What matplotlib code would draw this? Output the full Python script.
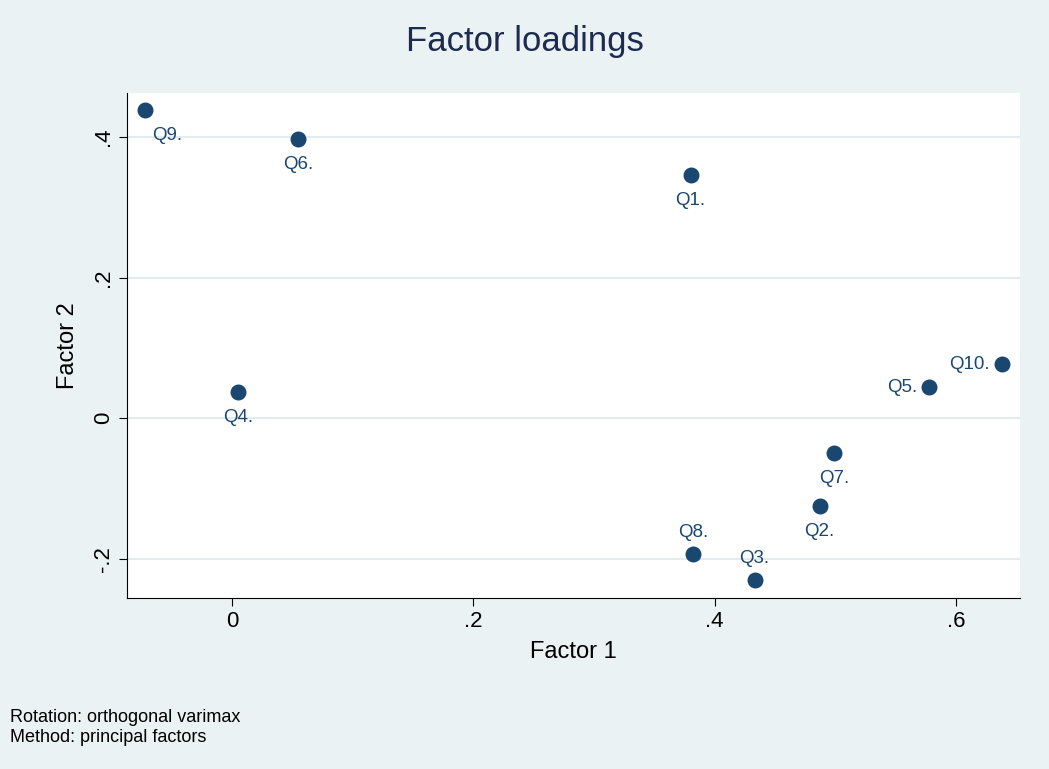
import matplotlib.pyplot as plt

plt.rcParams['font.family'] = ['Liberation Sans', 'DejaVu Sans']

# loadings
labels = ["Q1.", "Q2.", "Q3.", "Q4.", "Q5.", "Q6.", "Q7.", "Q8.", "Q9.", "Q10."]
factor1 = [0.380, 0.487, 0.433, 0.005, 0.578, 0.055, 0.499, 0.382, -0.072, 0.638]
factor2 = [0.346, -0.125, -0.231, 0.037, 0.044, 0.397, -0.050, -0.194, 0.439, 0.077]
# label placement: b=below, br=below right, l=left, a=above
placement = ["b", "b", "a", "b", "l", "b", "b", "a", "br", "l"]

xticks = [0, 0.2, 0.4, 0.6]
xticklabels = ["0", ".2", ".4", ".6"]
yticks = [-0.2, 0, 0.2, 0.4]
yticklabels = ["-.2", "0", ".2", ".4"]

bg = "#eaf2f3"
navy = "#1a476f"
txt = "#1e2b4f"

fig = plt.figure(figsize=(10.49, 7.69), dpi=100, facecolor=bg)
ax = fig.add_axes([127/1049, 1-598/769, (1020-127)/1049, (598-93)/769])
ax.set_facecolor("white")

ax.scatter(factor1, factor2, s=110, color=navy, zorder=3)

offsets = {"b": (0, -12, "center", "top"),
           "br": (5, -12, "left", "top"),
           "l": (-9, 0, "right", "center"),
           "a": (0, 10, "center", "bottom")}
for x, y, lab, p in zip(factor1, factor2, labels, placement):
    dx, dy, ha, va = offsets[p]
    ax.annotate(lab, (x, y), xytext=(dx, dy), textcoords="offset points",
                ha=ha, va=va, fontsize=13.5, color=navy)

ax.set_xlim(-0.087, 0.653)
ax.set_ylim(-0.256, 0.463)
ax.set_xticks(xticks)
ax.set_xticklabels(xticklabels)
ax.set_yticks(yticks)
ax.set_yticklabels(yticklabels, rotation=90, va="center")
ax.tick_params(labelsize=16, colors="black", length=6)
ax.yaxis.grid(True, color="#e2ebee", linewidth=1.5)
ax.set_axisbelow(True)
for side in ["top", "right"]:
    ax.spines[side].set_visible(False)

ax.set_xlabel("Factor 1", fontsize=17, labelpad=6)
ax.set_ylabel("Factor 2", fontsize=17, labelpad=10)

fig.text(0.5, 1-42/769, "Factor loadings", ha="center", va="center",
         fontsize=25, color=txt)
fig.text(10/1049, 1-717/769, "Rotation: orthogonal varimax", fontsize=13, va="center")
fig.text(10/1049, 1-738/769, "Method: principal factors", fontsize=13, va="center")

fig.savefig("out.png", dpi=100, facecolor=bg)
